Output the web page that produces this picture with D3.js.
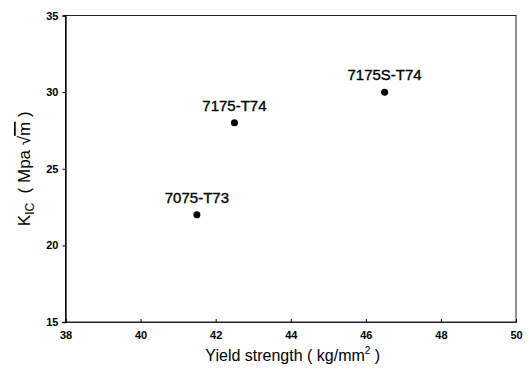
<!DOCTYPE html>
<html><head><meta charset="utf-8">
<script src="https://cdn.jsdelivr.net/npm/d3@7"></script>
<style>body{margin:0;background:#fff}svg{display:block}</style>
</head><body>
<svg id="c" width="529" height="376"></svg>
<script>
const alloys = ["7075-T73", "7175-T74", "7175S-T74"];
const yieldStrength = [41.5, 42.5, 46.5];
const kic = [22, 28, 30];
const xTicks = [38, 40, 42, 44, 46, 48, 50];
const yTicks = [15, 20, 25, 30, 35];

const svg = d3.select("#c");
const L = 65.5, R = 516, T = 15.5, B = 322;
const x = d3.scaleLinear().domain([38, 50]).range([L, R]);
const y = d3.scaleLinear().domain([15, 35]).range([B, T]);
const font = "Liberation Sans, Arial, sans-serif";

// frame
svg.append("rect").attr("x", L).attr("y", T).attr("width", R - L).attr("height", B - T)
  .attr("fill", "none").attr("stroke", "#222").attr("stroke-width", 1);

const xAxis = svg.append("g").attr("transform", `translate(0,${B})`)
  .call(d3.axisBottom(x).tickValues(xTicks).tickSize(-3).tickPadding(9).tickFormat(d3.format("d")));
xAxis.select(".domain").attr("stroke", "#222");
xAxis.selectAll("text").attr("font-family", font).attr("font-weight", "bold").attr("font-size", 11).attr("fill", "#000");

const yAxis = svg.append("g").attr("transform", `translate(${L},0)`)
  .call(d3.axisLeft(y).tickValues(yTicks).tickSize(3).tickPadding(4).tickFormat(d3.format("d")));
yAxis.select(".domain").attr("stroke", "#000").attr("stroke-width", 1.3);
yAxis.selectAll("text").attr("font-family", font).attr("font-weight", "bold").attr("font-size", 11).attr("fill", "#000");

// points
const data = alloys.map((a, i) => ({a, x: yieldStrength[i], y: kic[i]}));
svg.selectAll("circle.pt").data(data).enter().append("circle")
  .attr("class", "pt").attr("cx", d => x(d.x)).attr("cy", d => y(d.y)).attr("r", 3.5).attr("fill", "#000");
svg.selectAll("text.lbl").data(data).enter().append("text")
  .attr("class", "lbl").attr("x", d => x(d.x)).attr("y", d => y(d.y) - 12)
  .attr("text-anchor", "middle").attr("font-family", font).attr("font-size", 15)
  .attr("fill", "#000").attr("stroke", "#000").attr("stroke-width", 0.35).text(d => d.a);

// x title
const xt = svg.append("text").attr("x", (L + R) / 2 + 2).attr("y", 361)
  .attr("text-anchor", "middle").attr("font-family", font).attr("font-size", 16).attr("fill", "#000");
xt.append("tspan").text("Yield strength ( kg/mm");
xt.append("tspan").attr("font-size", 10).attr("dy", -7).text("2");
xt.append("tspan").attr("dy", 7).text(" )");

// y title
const yt = svg.append("text").attr("transform", `translate(30,${(T + B) / 2}) rotate(-90)`)
  .attr("text-anchor", "middle").attr("font-family", font).attr("font-size", 17).attr("fill", "#000")
  .attr("xml:space", "preserve").style("white-space", "pre");
yt.append("tspan").text("K");
yt.append("tspan").attr("font-size", 12).attr("dy", 4).text("IC");
yt.append("tspan").attr("dy", -4).text("  ( Mpa ");
yt.append("tspan").text("√");
yt.append("tspan").attr("text-decoration", "overline").text("m");
yt.append("tspan").text(" )");
</script>
</body></html>
